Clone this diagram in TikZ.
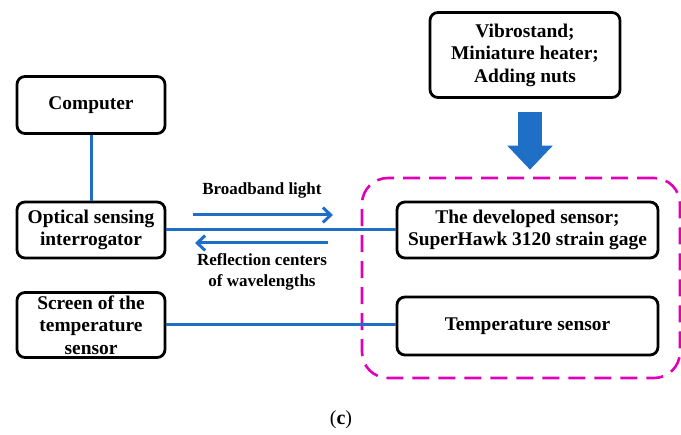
\documentclass[tikz,border=0pt]{standalone}
\usepackage{fontspec}
\setmainfont{Liberation Serif}
\usetikzlibrary{arrows.meta}
\definecolor{lineblue}{RGB}{31,111,198}
\definecolor{grpmagenta}{RGB}{224,0,184}
\tikzset{
  box/.style={draw=black, line width=2.8pt, rounded corners=8pt, inner sep=0pt,
    align=center, font=\fontsize{19.4}{22.5}\selectfont\bfseries},
  link/.style={draw=lineblue, line width=3pt},
  flow/.style={link, -{Straight Barb[length=8pt,width=15pt]}},
  note/.style={inner sep=0pt, align=center, font=\fontsize{17}{21}\selectfont\bfseries},
  group/.style={draw=grpmagenta, line width=2.6pt, dash pattern=on 17pt off 9pt,
    rounded corners=26pt, inner sep=0pt},
  bigarrow/.style={draw=lineblue, line width=24pt, -{Triangle[length=24pt,width=44pt]}}
}

\begin{document}
\begin{tikzpicture}[x=1pt,y=-1pt]
\useasboundingbox (0,0) rectangle (681,435);

\draw (91,105)    node (comp)   [box, minimum width=148pt, minimum height=57pt] {Computer};
\draw (91,230)    node (inter)  [box, minimum width=148pt, minimum height=56pt] {Optical sensing\\interrogator};
\draw (comp) -- (inter) [link];

\draw (91,325)    node (screen) [box, minimum width=148pt, minimum height=65pt] {Screen of the\\temperature\\sensor};

\draw (525,55)    node (vib)    [box, minimum width=190pt, minimum height=85pt] {Vibrostand;\\Miniature heater;\\Adding nuts};

\draw (521,278)   node (grp)    [group, minimum width=318pt, minimum height=200pt] {};
\draw (527.5,230) node (dev)    [box, minimum width=261pt, minimum height=56pt] {The developed sensor;\\SuperHawk 3120 strain gage};
\draw (527.5,326) node (temp)   [box, minimum width=261pt, minimum height=58pt] {Temperature sensor};

\draw[link] (inter) -- (dev);
\draw[link] (screen.east) -- (screen.east -| temp.west);

\draw[bigarrow] ([xshift=5pt,yshift=-13pt]vib.south) -- ([xshift=5pt,yshift=7pt]vib.south |- grp.north);

\coordinate (bbs) at (193,215);
\coordinate (bbe) at (333,215);
\coordinate (rfs) at (328,243);
\coordinate (rfe) at (195,243);
\draw[flow] (bbs) -- (bbe);
\draw[flow] (rfs) -- (rfe);
\draw (262,190)   node (bblabel) [note] {Broadband light};
\draw (262,272)   node (rflabel) [note] {Reflection centers\\of wavelengths};

\draw (341,420)   node (cap)    [font=\fontsize{20}{24}\selectfont] {(\textbf{c})};
\end{tikzpicture}
\end{document}
